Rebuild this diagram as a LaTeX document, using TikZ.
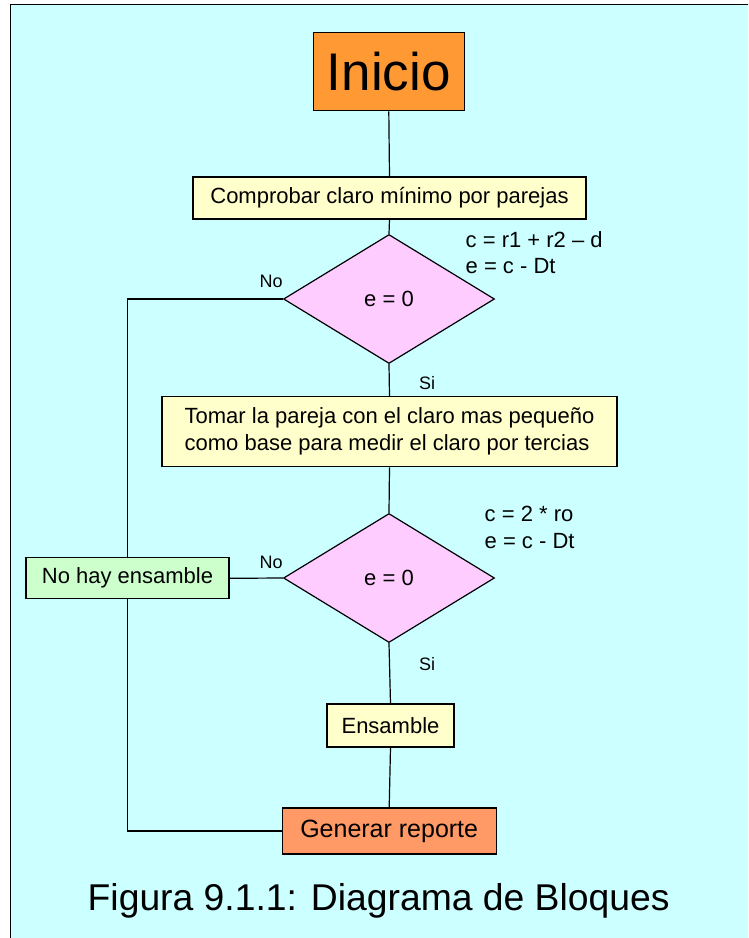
\documentclass[tikz,border=0pt]{standalone}
\usepackage{fontspec}
\setmainfont{Liberation Sans}
\usetikzlibrary{shapes.geometric}
\definecolor{bgcyan}{HTML}{CCFFFF}
\definecolor{startorange}{HTML}{FF9933}
\definecolor{endorange}{HTML}{FF9966}
\definecolor{boxyellow}{HTML}{FFFFCC}
\definecolor{dpink}{HTML}{FFCCFF}
\definecolor{boxgreen}{HTML}{CCFFCC}
\begin{document}
\begin{tikzpicture}[x=1pt,y=-1pt,
  box/.style={draw, rectangle, line width=1.2pt, inner sep=0pt, align=center},
  conn/.style={line width=1.2pt},
  decision/.style={draw, diamond, fill=dpink, line width=1.2pt, minimum width=211pt, minimum height=129pt, inner sep=0pt, font=\fontsize{22}{26}\selectfont},
  lbl/.style={anchor=base west, inner sep=0pt, font=\fontsize{18}{20}\selectfont},
  note/.style={anchor=base west, inner sep=0pt, font=\fontsize{22}{27}\selectfont}]
\useasboundingbox (0,0) rectangle (748,938);
\clip (0,0) rectangle (748,938);
\fill[white] (0,0) rectangle (748,938);
\draw[fill=bgcyan, line width=1.6pt] (10.5,4.5) rectangle (800,1000);

% nodes
\node[box, fill=startorange, minimum width=151pt, minimum height=78pt, font=\fontsize{53}{56}\selectfont] (inicio) at (388.8,71.7) {Inicio};
\node[box, fill=boxyellow, minimum width=393pt, minimum height=42pt, font=\fontsize{22}{26}\selectfont] (comp) at (389.5,198) {Comprobar claro mínimo por parejas};
\node[decision] (d1) at (389,299) {e = 0};
\node[box, fill=boxyellow, minimum width=455pt, minimum height=70pt, align=left, font=\fontsize{22}{27}\selectfont] (tomar) at (389.5,431.7) {Tomar la pareja con el claro mas pequeño\\como base para medir el claro por tercias};
\node[decision] (d2) at (389,578) {e = 0};
\node[box, fill=boxgreen, minimum width=203pt, minimum height=41pt, font=\fontsize{22}{26}\selectfont] (nohay) at (127.5,578.3) {No hay ensamble};
\node[box, fill=boxyellow, minimum width=127pt, minimum height=43pt, font=\fontsize{22}{26}\selectfont] (ens) at (390.5,725.5) {Ensamble};
\node[box, fill=endorange, minimum width=214pt, minimum height=46pt, font=\fontsize{25}{28}\selectfont] (gen) at (389.2,831) {Generar reporte};

% connectors
\draw[conn] (inicio.south) -- (comp.north);
\draw[conn] (comp.south) -- (d1.north);
\draw[conn] (d1.south) -- (tomar.north);
\draw[conn] (tomar.south) -- (d2.north);
\draw[conn] (d2.south) -- (ens.north);
\draw[conn] (ens.south) -- (gen.north);
\draw[conn] (d2.west) -- (nohay.east);
\draw[conn] (d1.west) -| (nohay.north);
\draw[conn] (nohay.south) |- (gen.west);

% labels
\node[lbl] (no1) at (259.5,287.3) {No};
\node[lbl] (si1) at (419,389.3) {Si};
\node[lbl] (no2) at (259.5,568.3) {No};
\node[lbl] (si2) at (419,670) {Si};
\node[note] (f1a) at (465.5,247) {c = r1 + r2 – d};
\node[note] (f1b) at (465.5,273.7) {e = c - Dt};
\node[note] (f2a) at (484.5,521) {c = 2 * ro};
\node[note] (f2b) at (484.5,548.3) {e = c - Dt};

% caption
\node[anchor=base west, inner sep=0pt, font=\fontsize{37.3}{40}\selectfont] (cap) at (87.5,910.7) {Figura 9.1.1: Diagrama de Bloques};
\end{tikzpicture}
\end{document}
